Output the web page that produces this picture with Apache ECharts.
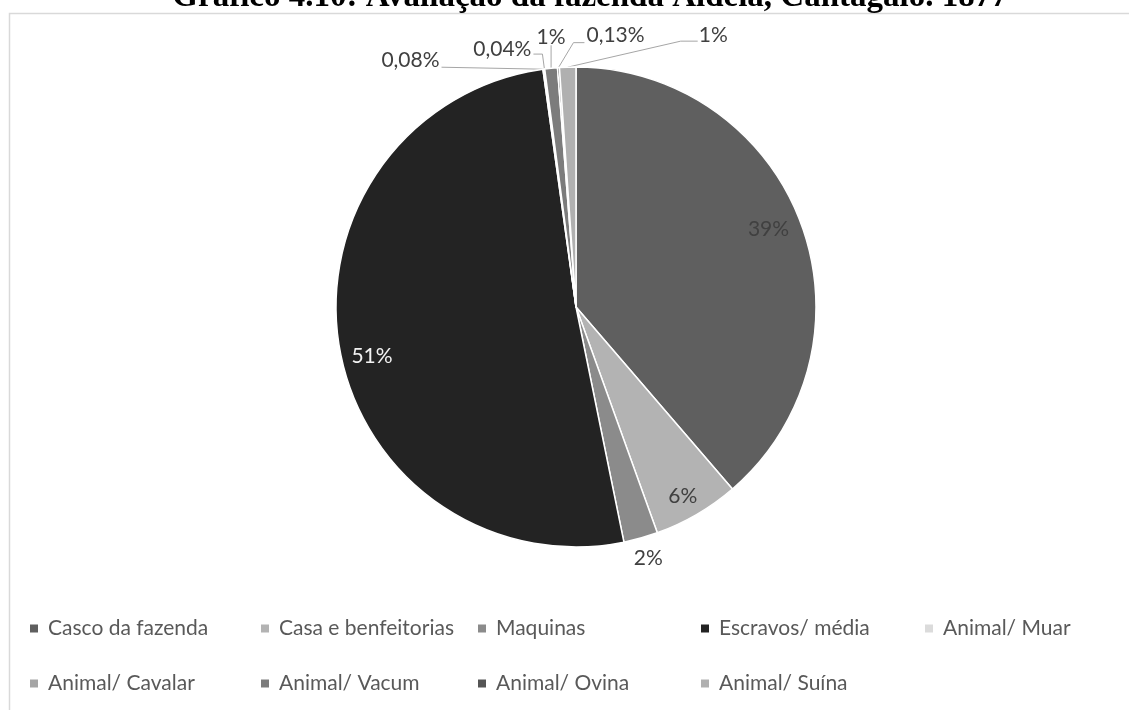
<!DOCTYPE html>
<html>
<head>
<meta charset="utf-8">
<script src="https://cdn.jsdelivr.net/npm/echarts@6/dist/echarts.min.js"></script>
<style>
  html, body { margin: 0; padding: 0; background: #ffffff; }
  #chart { width: 1129px; height: 710px; }
</style>
</head>
<body>
<div id="chart"></div>
<script>
// Farm valuation breakdown (shares of total value, %)
const titleText = 'Gráfico 4.10: Avaliação da fazenda Aldeia, Cantagalo. 1877';
const categories = [
  'Casco da fazenda', 'Casa e benfeitorias', 'Maquinas', 'Escravos/ média',
  'Animal/ Muar', 'Animal/ Cavalar', 'Animal/ Vacum', 'Animal/ Ovina', 'Animal/ Suína'
];
const shares = [38.7, 5.8, 2.3, 51.0, 0.08, 0.04, 0.85, 0.13, 1.1];

// Slice fills (grey scale)
const sliceColors = ['#5f5f5f', '#b3b3b3', '#8b8b8b', '#232323', '#dbdbdb', '#a5a5a5', '#7c7c7c', '#555555', '#b0b0b0'];
const labelColors = ['#404040', '#404040', '#404040', '#f2f2f2', '#404040', '#404040', '#404040', '#404040', '#404040'];

const PIE_CENTER = [576, 307];
const PIE_RADIUS = 240;
const FONT = 'Lato, "Open Sans", sans-serif';

// Mid angle of every slice, clockwise from 12 o'clock
const total = shares.reduce((a, b) => a + b, 0);
const midAngles = [];
let acc = 0;
shares.forEach(v => { midAngles.push((acc + v / 2) / total * 2 * Math.PI); acc += v; });
function polar(angle, r) {
  return [PIE_CENTER[0] + r * Math.sin(angle), PIE_CENTER[1] - r * Math.cos(angle)];
}

// Label placement: big slices get a radial position (fraction of radius) plus a small nudge;
// thin slices get a leader line (bend / end offsets from the slice edge)
const labelPlacement = [
  { radius: 0.86, nudge: [-1, -6] },
  { radius: 0.9, nudge: [-2, 3] },
  { radius: 1.085, nudge: [2, 1] },
  { radius: 0.875, nudge: [3, 14] },
  { bend: [0, 0], end: [-102, -2], text: [-2, -7], align: 'right' },
  { bend: [-2, -15], end: [-11, -15], text: [-2, -5], align: 'right' },
  { bend: [0, -23], end: [0, -23], text: [0, -8], align: 'center' },
  { bend: [15, -25], end: [26, -25], text: [2, -7], align: 'left' },
  { bend: [113, -26], end: [130, -26], text: [1, -6], align: 'left' }
];

function formatShare(p) {
  return p < 0.5 ? p.toFixed(2).replace('.', ',') + '%' : Math.round(p) + '%';
}

// Legend laid out in Excel-style columns, one legend per entry
const legendColumns = [28, 259, 476, 699, 923];
const legendRows = [618, 673];
const legends = categories.map((name, i) => ({
  data: [name],
  left: legendColumns[i < 5 ? i : i - 5],
  top: legendRows[i < 5 ? 0 : 1],
  orient: 'horizontal',
  padding: 0,
  icon: 'rect',
  itemWidth: 10,
  itemHeight: 10,
  selectedMode: false,
  textStyle: { fontFamily: FONT, fontSize: 21, color: '#595959', padding: [0, 0, 0, 4] }
}));

const chart = echarts.init(document.getElementById('chart'), null, { renderer: 'canvas' });
chart.setOption({
  backgroundColor: '#ffffff',
  animation: false,
  graphic: [
    {
      type: 'rect',
      shape: { x: 9.5, y: 13.5, width: 1200, height: 800 },
      style: { fill: 'none', stroke: '#d9d9d9', lineWidth: 1.5 },
      silent: true
    },
    {
      type: 'text',
      x: 590, y: -3,
      style: {
        text: titleText,
        fill: '#000000',
        font: 'bold 33px "Liberation Serif", "Times New Roman", serif',
        align: 'center',
        verticalAlign: 'middle'
      },
      silent: true
    }
  ],
  legend: legends,
  series: [{
    type: 'pie',
    center: PIE_CENTER,
    radius: PIE_RADIUS,
    startAngle: 90,
    clockwise: true,
    avoidLabelOverlap: false,
    silent: true,
    itemStyle: { borderColor: '#ffffff', borderWidth: 1.5 },
    label: {
      fontFamily: FONT,
      fontSize: 21,
      formatter: p => formatShare(p.percent)
    },
    labelLine: { lineStyle: { color: '#a6a6a6', width: 1 } },
    labelLayout: function (p) {
      const i = p.dataIndex;
      const pl = labelPlacement[i];
      const a = midAngles[i];
      if (pl.radius) {
        const pt = polar(a, PIE_RADIUS * pl.radius);
        return { x: pt[0] + pl.nudge[0], y: pt[1] + pl.nudge[1], align: 'center', verticalAlign: 'middle' };
      }
      const e = polar(a, PIE_RADIUS);
      const b = [e[0] + pl.bend[0], e[1] + pl.bend[1]];
      const t = [e[0] + pl.end[0], e[1] + pl.end[1]];
      return {
        x: t[0] + pl.text[0], y: t[1] + pl.text[1],
        align: pl.align, verticalAlign: 'middle',
        labelLinePoints: [e, b, t]
      };
    },
    data: categories.map((name, i) => ({
      name: name,
      value: shares[i],
      itemStyle: { color: sliceColors[i] },
      label: {
        position: labelPlacement[i].radius && labelPlacement[i].radius < 1 ? 'inside' : 'outside',
        color: labelColors[i]
      },
      labelLine: { show: !labelPlacement[i].radius }
    }))
  }]
});
</script>
</body>
</html>
